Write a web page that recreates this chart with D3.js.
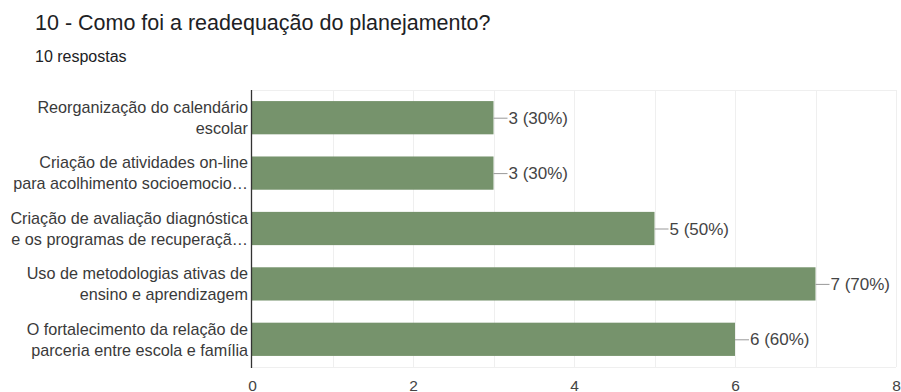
<!DOCTYPE html>
<html>
<head>
<meta charset="utf-8">
<script src="https://cdn.jsdelivr.net/npm/d3@7/dist/d3.min.js"></script>
<style>
  html, body { margin: 0; padding: 0; background: #fff; }
  svg { display: block; }
  text { font-family: "Liberation Sans", Arial, sans-serif; }
</style>
</head>
<body>
<svg id="chart" width="901" height="392"></svg>
<script>
// Survey question and answer summary
const title = "10 - Como foi a readequação do planejamento?";
const subtitle = "10 respostas";
const categories = [
  ["Reorganização do calendário", "escolar"],
  ["Criação de atividades on-line", "para acolhimento socioemocio…"],
  ["Criação de avaliação diagnóstica", "e os programas de recuperaçã…"],
  ["Uso de metodologias ativas de", "ensino e aprendizagem"],
  ["O fortalecimento da relação de", "parceria entre escola e família"]
];
const counts = [3, 3, 5, 7, 6];
const percents = [30, 30, 50, 70, 60];
const tickValues = [0, 2, 4, 6, 8];

const svg = d3.select("#chart");
const plot = { left: 252, right: 896, top: 90, bottom: 367 };

const x = d3.scaleLinear().domain([0, 8]).range([plot.left, plot.right]);
const y = d3.scaleBand().domain(d3.range(categories.length))
  .range([plot.top, plot.bottom]).paddingInner(0.4).paddingOuter(0.2);

// Header
svg.append("text").attr("x", 35).attr("y", 30)
  .attr("font-family", "Roboto, sans-serif")
  .attr("font-size", 21.5).attr("fill", "#202124").text(title);
svg.append("text").attr("x", 35).attr("y", 62)
  .attr("font-family", "Roboto, sans-serif")
  .attr("font-size", 16).attr("fill", "#202124").text(subtitle);

// Plot frame and unit gridlines
const grid = svg.append("g").attr("stroke", "#efefef").attr("stroke-width", 1);
grid.selectAll("line.v").data(d3.range(1, 9)).join("line").attr("class", "v")
  .attr("x1", d => Math.round(x(d)) + 0.5).attr("x2", d => Math.round(x(d)) + 0.5)
  .attr("y1", plot.top).attr("y2", plot.bottom);
grid.append("line").attr("x1", plot.left).attr("x2", plot.right)
  .attr("y1", plot.top + 0.5).attr("y2", plot.top + 0.5);
grid.append("line").attr("x1", plot.left).attr("x2", plot.right)
  .attr("y1", plot.bottom + 0.5).attr("y2", plot.bottom + 0.5);

// Bars
svg.append("g").selectAll("rect").data(counts).join("rect")
  .attr("x", x(0)).attr("y", (d, i) => y(i))
  .attr("width", d => x(d) - x(0)).attr("height", y.bandwidth())
  .attr("fill", "#76936c");

// Value labels with leader ticks
const lab = svg.append("g").selectAll("g").data(counts).join("g")
  .attr("transform", (d, i) => `translate(${x(d)},${y(i) + y.bandwidth() / 2})`);
lab.append("line").attr("x1", 0).attr("x2", 14).attr("y1", 0.5).attr("y2", 0.5)
  .attr("stroke", "#999").attr("stroke-width", 1);
lab.append("text").attr("x", 15).attr("dy", "0.36em")
  .attr("font-size", 17).attr("fill", "#444")
  .text((d, i) => `${d} (${percents[i]}%)`);

// Category axis line
svg.append("line").attr("x1", x(0) - 0.5).attr("x2", x(0) - 0.5)
  .attr("y1", plot.top).attr("y2", plot.bottom + 1)
  .attr("stroke", "#333").attr("stroke-width", 1.3);

// Category labels (two lines each)
const cat = svg.append("g").selectAll("text").data(categories).join("text")
  .attr("text-anchor", "end").attr("font-size", 16.2).attr("fill", "#3a3a3a");
cat.each(function (lines, i) {
  const t = d3.select(this);
  const cy = y(i) + y.bandwidth() / 2;
  lines.forEach((ln, k) => {
    t.append("tspan").attr("x", 248)
      .attr("y", cy + (k - (lines.length - 1) / 2) * 21)
      .attr("dy", "0.36em").text(ln);
  });
});

// Value axis
const xAxis = d3.axisBottom(x).tickValues(tickValues).tickSize(0).tickPadding(0);
const gx = svg.append("g").attr("transform", "translate(0,390.5)").call(xAxis);
gx.select(".domain").remove();
gx.selectAll("text").attr("font-size", 15.5).attr("fill", "#444")
  .attr("font-family", "'Liberation Sans', Arial, sans-serif")
  .attr("dy", "0em").attr("y", 0);
</script>
</body>
</html>
